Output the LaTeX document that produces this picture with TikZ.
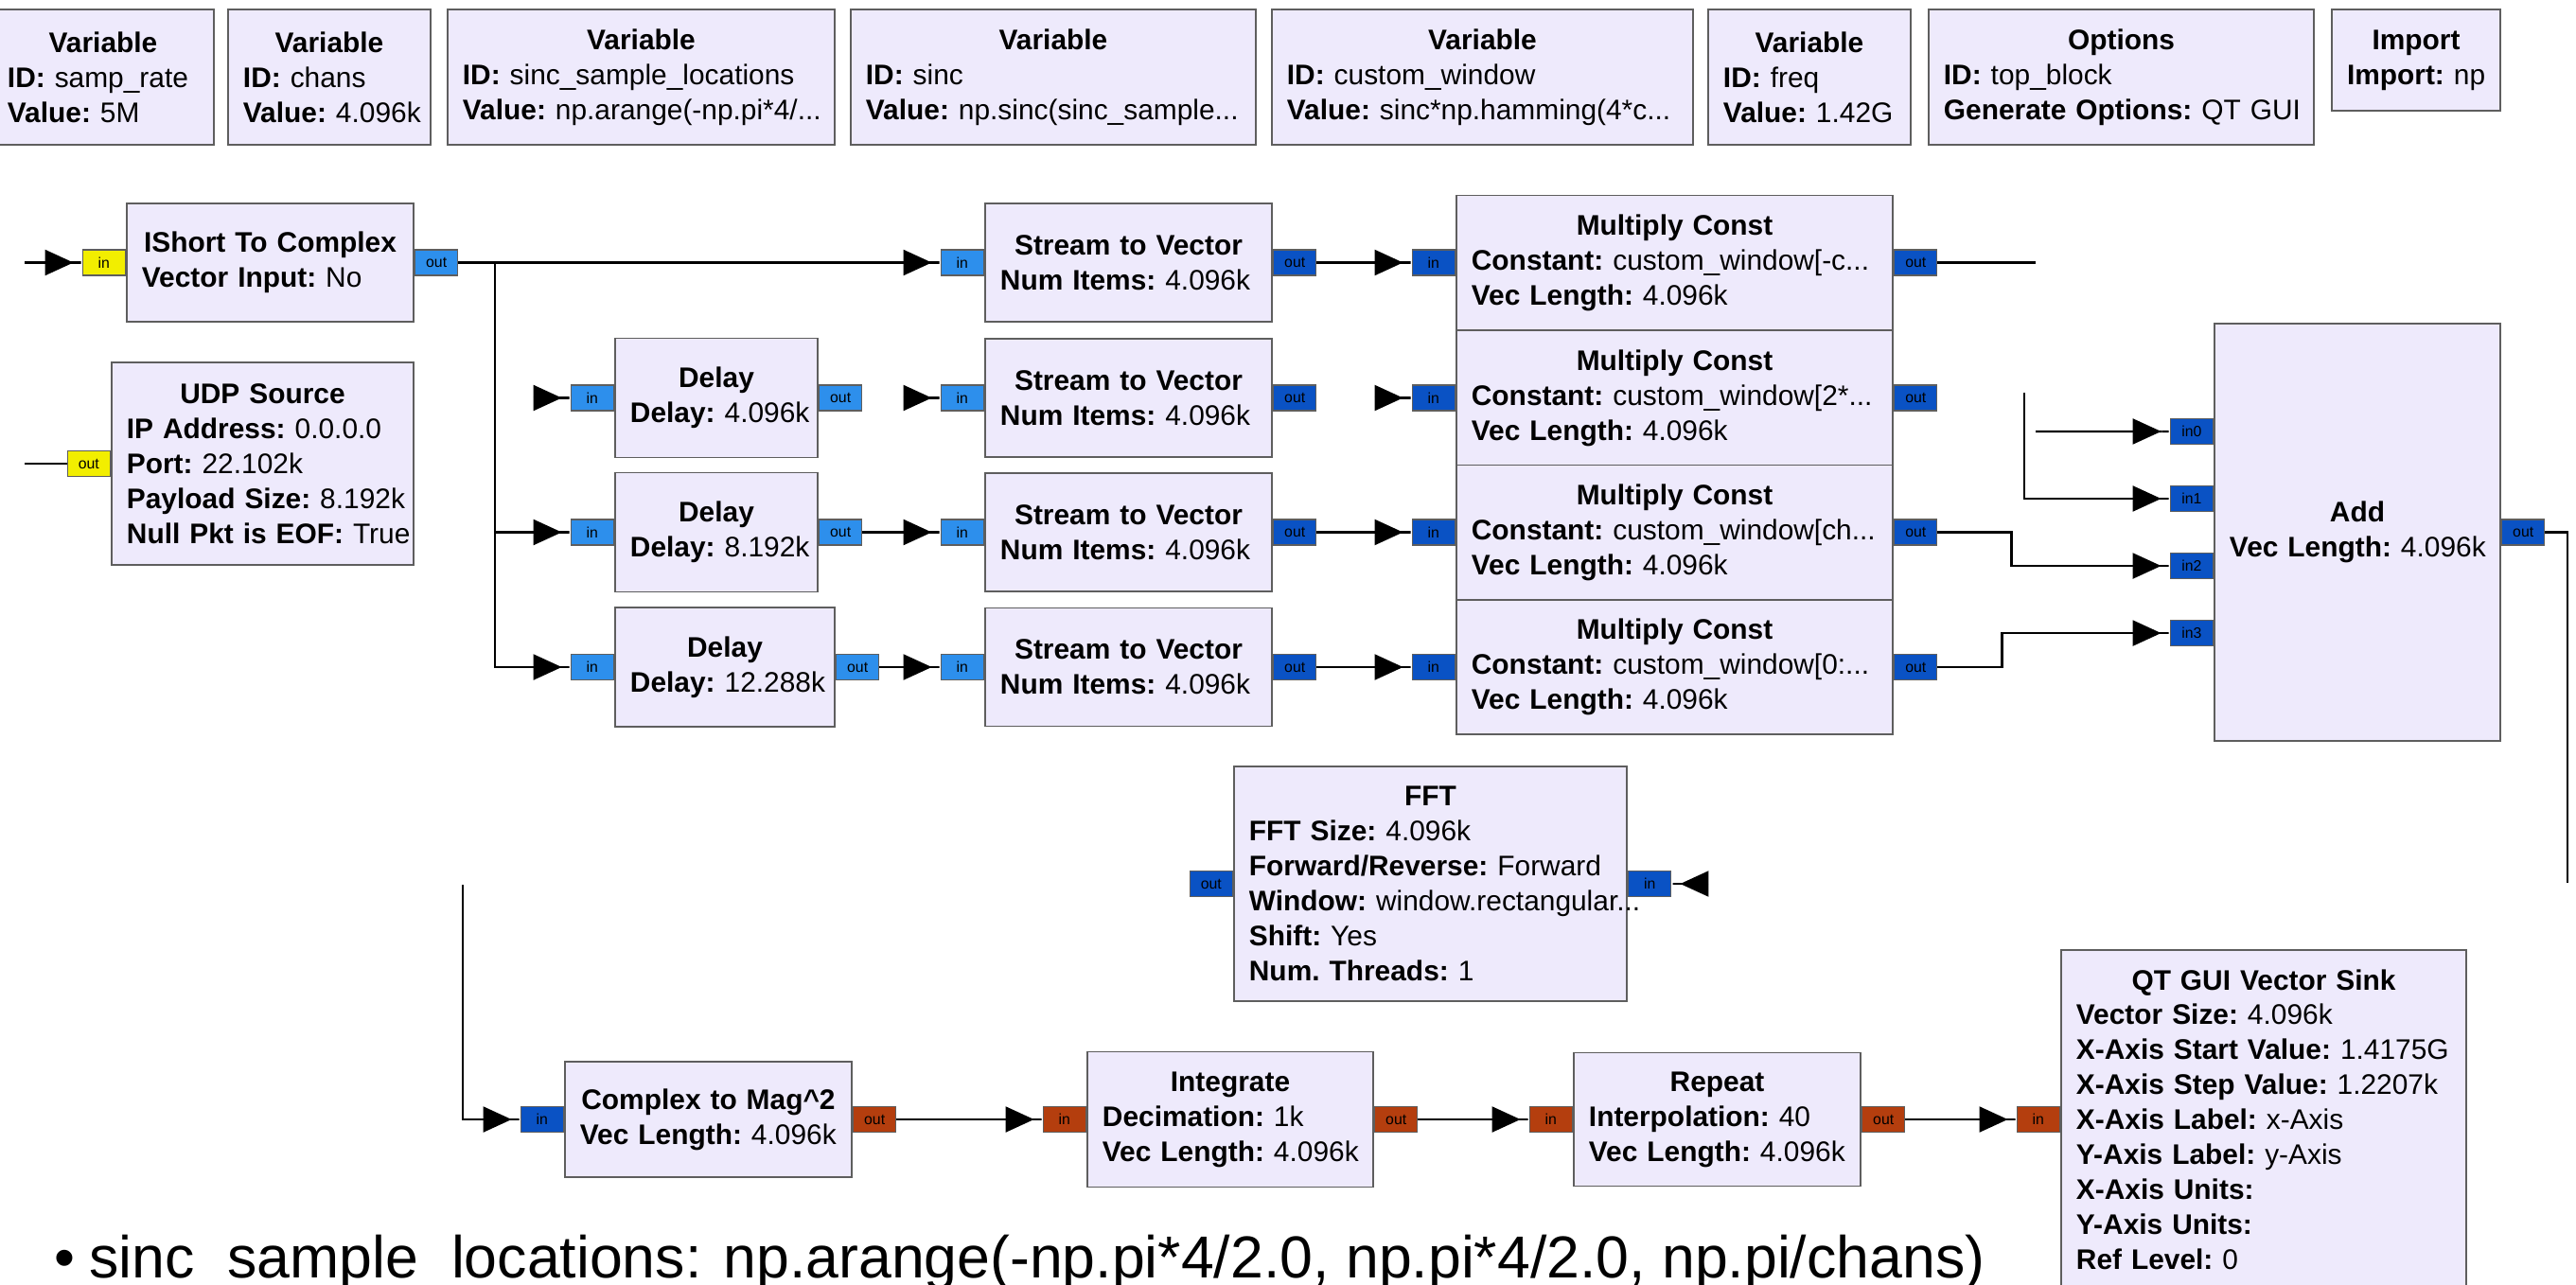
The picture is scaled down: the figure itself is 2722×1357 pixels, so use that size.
\documentclass[tikz,border=0pt]{standalone}
\usepackage{fontspec}
\setmainfont{Liberation Sans}
\usetikzlibrary{positioning, arrows.meta}
\definecolor{blockfill}{HTML}{EEEAFC}
\definecolor{blockline}{HTML}{5E5E5E}
\definecolor{portshort}{HTML}{F2EE00}
\definecolor{portcplx}{HTML}{2D8FEC}
\definecolor{portvec}{HTML}{0A52C4}
\definecolor{portflt}{HTML}{B43E0E}
\newcommand{\blocktitle}[1]{{\centering\textbf{#1}\par}}
\newcommand{\param}[2]{\mbox{\textbf{#1} #2}}
\tikzstyle{block} = [rectangle, draw=blockline, fill=blockfill, line width=0.5pt, inner xsep=0.16cm, inner ysep=0pt, align=left, font=\fontsize{8.5}{10.5}\selectfont\frenchspacing]
\tikzstyle{port} = [rectangle, draw=blockline, line width=0.4pt, minimum width=0.45cm, minimum height=0.27cm, inner sep=0pt, font=\fontsize{4.5}{5}\selectfont]
\tikzstyle{wire} = [line width=0.6pt, -{Triangle[length=0.3cm,width=0.27cm]Rectangle[length=0.09cm,width=0.6pt]}]
\tikzstyle{stub} = [line width=0.6pt]

\begin{document}
\begin{tikzpicture}[x=0.01cm, y=-0.01cm]
\useasboundingbox (0,0) rectangle (2722,1357);

\node (samprate) [block, text width=2.02cm, minimum height=1.43cm] at (109,81.5) {\blocktitle{Variable}\param{ID:}{samp\_rate}\\\param{Value:}{5M}};
\node (chans) [block, text width=1.82cm, minimum height=1.43cm] at (348,81.5) {\blocktitle{Variable}\param{ID:}{chans}\\\param{Value:}{4.096k}};
\node (sincloc) [block, text width=3.77cm, minimum height=1.43cm] at (677.5,81.5) {\blocktitle{Variable}\param{ID:}{sinc\_sample\_locations}\\\param{Value:}{np.arange(-np.pi*4/...}};
\node (sinc) [block, text width=3.96cm, minimum height=1.43cm] at (1113,81.5) {\blocktitle{Variable}\param{ID:}{sinc}\\\param{Value:}{np.sinc(sinc\_sample...}};
\node (window) [block, text width=4.13cm, minimum height=1.43cm] at (1566.5,81.5) {\blocktitle{Variable}\param{ID:}{custom\_window}\\\param{Value:}{sinc*np.hamming(4*c...}};
\node (freq) [block, text width=1.82cm, minimum height=1.43cm] at (1912,81.5) {\blocktitle{Variable}\param{ID:}{freq}\\\param{Value:}{1.42G}};
\node (options) [block, text width=3.75cm, minimum height=1.43cm] at (2241.5,81.5) {\blocktitle{Options}\param{ID:}{top\_block}\\\param{Generate Options:}{QT GUI}};
\node (import) [block, text width=1.46cm, minimum height=1.07cm] at (2553,63.5) {\blocktitle{Import}\param{Import:}{np}};

\node (ishort) [block, text width=2.71cm, minimum height=1.25cm] at (285.5,277.5) {\blocktitle{IShort To Complex}\param{Vector Input:}{No}};
\node (udp) [block, text width=2.87cm, minimum height=2.14cm] at (277.5,490) {\blocktitle{UDP Source}\param{IP Address:}{0.0.0.0}\\\param{Port:}{22.102k}\\\param{Payload Size:}{8.192k}\\\param{Null Pkt is EOF:}{True}};

\node (delay1) [block, text width=1.82cm, minimum height=1.26cm] at (757,420.5) {\blocktitle{Delay}\param{Delay:}{4.096k}};
\node (delay2) [block, text width=1.82cm, minimum height=1.26cm] at (757,562.5) {\blocktitle{Delay}\param{Delay:}{8.192k}};
\node (delay3) [block, text width=2.00cm, minimum height=1.26cm] at (766,705) {\blocktitle{Delay}\param{Delay:}{12.288k}};

\node (stv1) [block, text width=2.71cm, minimum height=1.25cm] at (1192.5,277.5) {\blocktitle{Stream to Vector}\param{Num Items:}{4.096k}};
\node (stv2) [block, text width=2.71cm, minimum height=1.25cm] at (1192.5,420.5) {\blocktitle{Stream to Vector}\param{Num Items:}{4.096k}};
\node (stv3) [block, text width=2.71cm, minimum height=1.25cm] at (1192.5,562.5) {\blocktitle{Stream to Vector}\param{Num Items:}{4.096k}};
\node (stv4) [block, text width=2.71cm, minimum height=1.25cm] at (1192.5,705) {\blocktitle{Stream to Vector}\param{Num Items:}{4.096k}};

\node (mc1) [block, text width=4.29cm, minimum height=1.42cm] at (1769.5,277.5) {\blocktitle{Multiply Const}\param{Constant:}{custom\_window[-c...}\\\param{Vec Length:}{4.096k}};
\node (mc2) [block, text width=4.29cm, minimum height=1.42cm] at (1769.5,420.5) {\blocktitle{Multiply Const}\param{Constant:}{custom\_window[2*...}\\\param{Vec Length:}{4.096k}};
\node (mc3) [block, text width=4.29cm, minimum height=1.42cm] at (1769.5,562.5) {\blocktitle{Multiply Const}\param{Constant:}{custom\_window[ch...}\\\param{Vec Length:}{4.096k}};
\node (mc4) [block, text width=4.29cm, minimum height=1.42cm] at (1769.5,705) {\blocktitle{Multiply Const}\param{Constant:}{custom\_window[0:...}\\\param{Vec Length:}{4.096k}};

\node (add) [block, text width=2.70cm, minimum height=4.41cm] at (2491,562.5) {\blocktitle{Add}\param{Vec Length:}{4.096k}};

\node (fft) [block, text width=3.83cm, minimum height=2.48cm] at (1511.5,934) {\blocktitle{FFT}\param{FFT Size:}{4.096k}\\\param{Forward/Reverse:}{Forward}\\\param{Window:}{window.rectangular...}\\\param{Shift:}{Yes}\\\param{Num. Threads:}{1}};

\node (ctm) [block, text width=2.71cm, minimum height=1.22cm] at (748.5,1183) {\blocktitle{Complex to Mag\textasciicircum 2}\param{Vec Length:}{4.096k}};
\node (integ) [block, text width=2.70cm, minimum height=1.43cm] at (1300,1183) {\blocktitle{Integrate}\param{Decimation:}{1k}\\\param{Vec Length:}{4.096k}};
\node (repeat) [block, text width=2.71cm, minimum height=1.41cm] at (1814.5,1183) {\blocktitle{Repeat}\param{Interpolation:}{40}\\\param{Vec Length:}{4.096k}};
\node (qt) [block, text width=3.96cm, minimum height=3.58cm] at (2392,1183) {\blocktitle{QT GUI Vector Sink}\param{Vector Size:}{4.096k}\\\param{X-Axis Start Value:}{1.4175G}\\\param{X-Axis Step Value:}{1.2207k}\\\param{X-Axis Label:}{x-Axis}\\\param{Y-Axis Label:}{y-Axis}\\\param{X-Axis Units:}{}\\\param{Y-Axis Units:}{}\\\param{Ref Level:}{0}};

\node (ishortin) [port, fill=portshort, left=0pt of ishort] {in};
\node (ishortout) [port, fill=portcplx, right=0pt of ishort] {out};
\node (udpout) [port, fill=portshort, left=0pt of udp] {out};
\node (delay1in) [port, fill=portcplx, left=0pt of delay1] {in};
\node (delay1out) [port, fill=portcplx, right=0pt of delay1] {out};
\node (delay2in) [port, fill=portcplx, left=0pt of delay2] {in};
\node (delay2out) [port, fill=portcplx, right=0pt of delay2] {out};
\node (delay3in) [port, fill=portcplx, left=0pt of delay3] {in};
\node (delay3out) [port, fill=portcplx, right=0pt of delay3] {out};
\node (stv1in) [port, fill=portcplx, left=0pt of stv1] {in};
\node (stv1out) [port, fill=portvec, right=0pt of stv1] {out};
\node (stv2in) [port, fill=portcplx, left=0pt of stv2] {in};
\node (stv2out) [port, fill=portvec, right=0pt of stv2] {out};
\node (stv3in) [port, fill=portcplx, left=0pt of stv3] {in};
\node (stv3out) [port, fill=portvec, right=0pt of stv3] {out};
\node (stv4in) [port, fill=portcplx, left=0pt of stv4] {in};
\node (stv4out) [port, fill=portvec, right=0pt of stv4] {out};
\node (mc1in) [port, fill=portvec, left=0pt of mc1] {in};
\node (mc1out) [port, fill=portvec, right=0pt of mc1] {out};
\node (mc2in) [port, fill=portvec, left=0pt of mc2] {in};
\node (mc2out) [port, fill=portvec, right=0pt of mc2] {out};
\node (mc3in) [port, fill=portvec, left=0pt of mc3] {in};
\node (mc3out) [port, fill=portvec, right=0pt of mc3] {out};
\node (mc4in) [port, fill=portvec, left=0pt of mc4] {in};
\node (mc4out) [port, fill=portvec, right=0pt of mc4] {out};
\node (addin0) [port, fill=portvec, left=0pt of add.west, yshift=1.065cm] {in0};
\node (addin1) [port, fill=portvec, left=0pt of add.west, yshift=0.355cm] {in1};
\node (addin2) [port, fill=portvec, left=0pt of add.west, yshift=-0.355cm] {in2};
\node (addin3) [port, fill=portvec, left=0pt of add.west, yshift=-1.065cm] {in3};
\node (addout) [port, fill=portvec, right=0pt of add] {out};
\node (fftout) [port, fill=portvec, left=0pt of fft] {out};
\node (fftin) [port, fill=portvec, right=0pt of fft] {in};
\node (ctmin) [port, fill=portvec, left=0pt of ctm] {in};
\node (ctmout) [port, fill=portflt, right=0pt of ctm] {out};
\node (integin) [port, fill=portflt, left=0pt of integ] {in};
\node (integout) [port, fill=portflt, right=0pt of integ] {out};
\node (repeatin) [port, fill=portflt, left=0pt of repeat] {in};
\node (repeatout) [port, fill=portflt, right=0pt of repeat] {out};
\node (qtin) [port, fill=portflt, left=0pt of qt] {in};

\coordinate (srcin) at (26,277.5);
\coordinate (udpend) at (26,490);
\coordinate (split) at (523,277.5);
\coordinate[left=0.39cm of delay1in] (delay1tail);
\coordinate[left=0.39cm of stv2in] (stv2tail);
\coordinate[left=0.39cm of mc2in] (mc2tail);
\coordinate[right=0.39cm of fftin] (ffttail);
\coordinate (mc1end) at (2151,277.5);
\coordinate (in0tail) at (2151,456);
\coordinate (in1tail) at (2139,415);
\coordinate (addend) at (2713,933);
\coordinate (loopstart) at (489,935);

\draw [wire] (srcin) -- (ishortin);
\draw [stub] (udpout) -- (udpend);
\draw [wire] (ishortout) -- (stv1in);
\draw [wire] (split) |- (delay2in);
\draw [wire] (split) |- (delay3in);
\draw [wire] (delay1tail) -- (delay1in);
\draw [wire] (stv2tail) -- (stv2in);
\draw [wire] (delay2out) -- (stv3in);
\draw [wire] (delay3out) -- (stv4in);
\draw [wire] (stv1out) -- (mc1in);
\draw [wire] (mc2tail) -- (mc2in);
\draw [wire] (stv3out) -- (mc3in);
\draw [wire] (stv4out) -- (mc4in);
\draw [stub] (mc1out) -- (mc1end);
\draw [wire] (in0tail) -- (addin0);
\draw [wire] (in1tail) |- (addin1);
\draw [wire] (mc3out.east) -- ++(78,0) |- (addin2);
\draw [wire] (mc4out.east) -- ++(68,0) |- (addin3);
\draw [stub] (addout) -| (addend);
\draw [wire] (ffttail) -- (fftin);
\draw [wire] (loopstart) |- (ctmin);
\draw [wire] (ctmout) -- (integin);
\draw [wire] (integout) -- (repeatin);
\draw [wire] (repeatout) -- (qtin);

\node (note) [anchor=base west, font=\fontsize{17.8}{21}\selectfont] at (45,1350) {\textbullet\hspace{0.24em}sinc\_sample\_locations: np.arange(-np.pi*4/2.0, np.pi*4/2.0, np.pi/chans)};
\end{tikzpicture}
\end{document}
